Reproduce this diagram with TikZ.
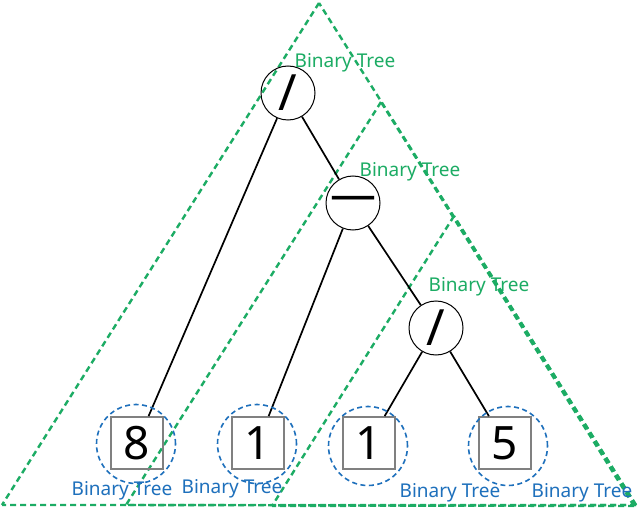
\documentclass[tikz,border=0pt]{standalone}
\usepackage{fontspec}
\setmainfont{Noto Sans}
\definecolor{treegreen}{RGB}{28,172,100}
\definecolor{treeblue}{RGB}{30,112,188}
\begin{document}
\begin{tikzpicture}[x=1pt,y=-1pt,
  tri/.style={draw=treegreen,line width=2.4pt,dash pattern=on 6pt off 4pt},
  opnode/.style={draw=black,circle,line width=1pt,minimum size=54pt,inner sep=0pt},
  optext/.style={inner sep=0pt,font=\fontsize{50}{50}\selectfont\bfseries},
  leaf/.style={draw=black!50,rectangle,line width=1.8pt,minimum size=52pt,inner sep=0pt,font=\fontsize{46}{46}\selectfont},
  sub/.style={draw=treeblue,circle,line width=1.6pt,dash pattern=on 5pt off 3.5pt,minimum size=79pt,inner sep=0pt},
  edge/.style={draw=black,line width=1.7pt},
  glabel/.style={text=treegreen,anchor=base,inner sep=0pt,font=\fontsize{19}{19}\selectfont},
  blabel/.style={text=treeblue,anchor=base,inner sep=0pt,font=\fontsize{19}{19}\selectfont}]
\useasboundingbox (0,0) rectangle (640,508);
\fill[white] (0,0) rectangle (640,508);
% subtree triangles (sides drawn from the shared corner so dashes line up)
\coordinate (t1) at (319,3);
\coordinate (t2) at (381,102);
\coordinate (t3) at (454,216);
\coordinate (br) at (636,505);
\coordinate (br2) at (634,506);
\coordinate (bl1) at (2,505);
\coordinate (bl2) at (126,505);
\coordinate (bl3) at (272,506);
\draw[tri] (br) -- (t1) (br) -- (bl1) (t1) -- (bl1);
\draw[tri] (br2) -- (t2) (br2) -- (bl2) (t2) -- (bl2);
\draw[tri] (br) -- (t3) (br) -- (bl3) (t3) -- (bl3);
% nodes
\node[opnode] (root) at (288,93) {};
\node[opnode] (minus) at (353,203) {};
\node[opnode] (div) at (436,328) {};
\node[leaf] (n8) at (137,443) {8};
\node[leaf] (n1a) at (258,443) {1};
\node[leaf] (n1b) at (369,443) {1};
\node[leaf] (n5) at (505,443) {5};
\node[optext] (roott) at (root) {/};
\node[optext,font=\fontsize{46}{46}\selectfont\bfseries] (minust) at (minus) {—};
\node[optext] (divt) at (div) {/};
% edges
\draw[edge] (root) -- (n8);
\draw[edge] (root) -- (minus);
\draw[edge] (minus) -- (n1a);
\draw[edge] (minus) -- (div);
\draw[edge] (div) -- (n1b);
\draw[edge] (div) -- (n5);
% leaf subtrees
\node[sub] (s8) at (136,444) {};
\node[sub] (s1a) at (257,444) {};
\node[sub] (s1b) at (368,446) {};
\node[sub] (s5) at (508,446) {};
% labels
\node[glabel] (g1) at (345,68) {Binary Tree};
\node[glabel] (g2) at (410,177) {Binary Tree};
\node[glabel] (g3) at (479,291) {Binary Tree};
\node[blabel] (b1) at (122,495) {Binary Tree};
\node[blabel] (b2) at (232,493) {Binary Tree};
\node[blabel] (b3) at (450,497) {Binary Tree};
\node[blabel] (b4) at (582,497) {Binary Tree};
\end{tikzpicture}
\end{document}
